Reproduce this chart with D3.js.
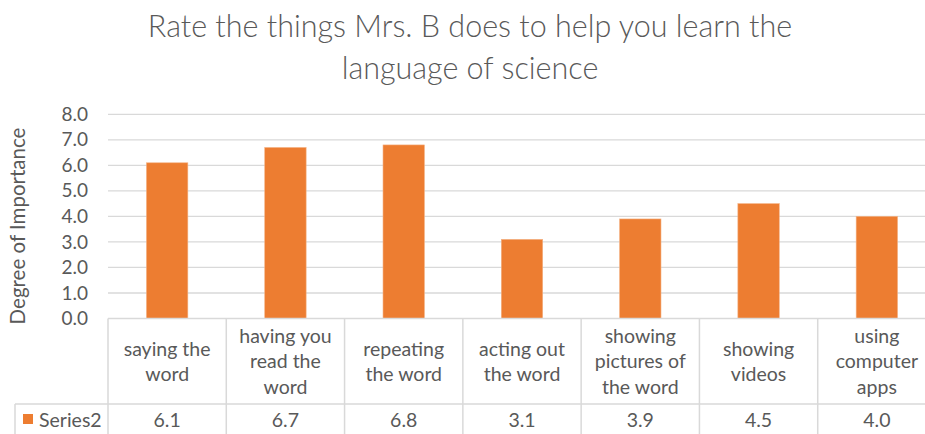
<!DOCTYPE html>
<html>
<head>
<meta charset="utf-8">
<script src="https://cdn.jsdelivr.net/npm/d3@7"></script>
<style>
  body { margin: 0; background: #fff; }
  svg text { font-family: Lato, "Open Sans", sans-serif; fill: #595959; }
</style>
</head>
<body>
<svg id="chart" width="925" height="434"></svg>
<script>
const categories = [
  "saying the word",
  "having you read the word",
  "repeating the word",
  "acting out the word",
  "showing pictures of the word",
  "showing videos",
  "using computer apps"
];
const series2 = [6.1, 6.7, 6.8, 3.1, 3.9, 4.5, 4.0];
const yTicks = [0, 1, 2, 3, 4, 5, 6, 7, 8];
const seriesName = "Series2";
const titleLines = ["Rate the things Mrs. B does to help you learn the", "language of science"];
const yTitle = "Degree of Importance";

const svg = d3.select("#chart");
const orange = "#ed7d31";
const gridColor = "#d9d9d9";

const plotLeft = 108, plotRight = 936, plotTop = 114.3, base = 318.5;
const rowSplit = 404, tableBottom = 440;

const x = d3.scaleBand().domain(categories).range([plotLeft, plotRight]).padding(0);
const y = d3.scaleLinear().domain([0, 8]).range([base, plotTop]);

// title
svg.append("g").selectAll("text")
  .data(titleLines)
  .join("text")
  .attr("x", 470)
  .attr("y", (d, i) => 37 + i * 42)
  .attr("text-anchor", "middle")
  .style("font-size", "30.5px")
  .style("font-weight", 300)
  .text(d => d);

// gridlines
svg.append("g").selectAll("line")
  .data(yTicks.slice(1))
  .join("line")
  .attr("x1", plotLeft).attr("x2", plotRight)
  .attr("y1", d => y(d)).attr("y2", d => y(d))
  .style("stroke", gridColor)
  .style("stroke-width", 1.3);

// y axis labels
const yAxis = svg.append("g")
  .attr("transform", `translate(${plotLeft},0)`)
  .call(d3.axisLeft(y).tickValues(yTicks).tickFormat(d3.format(".1f")).tickSize(0).tickPadding(20));
yAxis.select(".domain").remove();
yAxis.selectAll("text")
  .style("font-size", "19px")
  .style("font-family", "Lato, 'Open Sans', sans-serif")
  .attr("fill", "#595959");

svg.append("text")
  .attr("transform", "translate(25,226) rotate(-90)")
  .attr("text-anchor", "middle")
  .style("font-size", "20.5px")
  .text(yTitle);

// bars
const bw = x.bandwidth() * 0.35;
svg.append("g").selectAll("rect")
  .data(series2)
  .join("rect")
  .attr("x", (d, i) => x(categories[i]) + (x.bandwidth() - bw) / 2)
  .attr("width", bw)
  .attr("y", d => y(d))
  .attr("height", d => y(0) - y(d))
  .style("fill", orange)
  .style("stroke", "#f4b183")
  .style("stroke-width", 0.6);

// data table lines
const table = svg.append("g").style("stroke", gridColor).style("stroke-width", 1.5);
table.append("line").attr("x1", plotLeft).attr("x2", plotRight).attr("y1", base).attr("y2", base);
table.append("line").attr("x1", 15).attr("x2", plotRight).attr("y1", rowSplit).attr("y2", rowSplit);
table.append("line").attr("x1", 15).attr("x2", 15).attr("y1", rowSplit).attr("y2", tableBottom);
table.selectAll("line.v")
  .data(categories.concat(["end"]))
  .join("line")
  .attr("class", "v")
  .attr("x1", (d, i) => i < categories.length ? x(d) : plotRight)
  .attr("x2", (d, i) => i < categories.length ? x(d) : plotRight)
  .attr("y1", base).attr("y2", tableBottom);

// category labels, wrapped to the cell width
const catG = svg.append("g").selectAll("text")
  .data(categories)
  .join("text")
  .attr("text-anchor", "middle")
  .style("font-size", "19.5px");

catG.each(function (d) {
  const el = d3.select(this);
  const words = d.split(" ");
  const lines = [];
  let line = [];
  const probe = el.append("tspan");
  words.forEach(w => {
    const test = line.concat([w]).join(" ");
    probe.text(test);
    if (line.length && probe.node().getComputedTextLength() > 106) {
      lines.push(line.join(" "));
      line = [w];
    } else {
      line.push(w);
    }
  });
  lines.push(line.join(" "));
  probe.remove();
  const cx = x(d) + x.bandwidth() / 2;
  const lh = 25.5;
  const cy = (base + rowSplit) / 2 - (lines.length - 1) * lh / 2 + 7;
  lines.forEach((t, i) => {
    el.append("tspan").attr("x", cx).attr("y", cy + i * lh).text(t);
  });
});

// values row
svg.append("g").selectAll("text")
  .data(series2)
  .join("text")
  .attr("x", (d, i) => x(categories[i]) + x.bandwidth() / 2)
  .attr("y", 427)
  .attr("text-anchor", "middle")
  .style("font-size", "19.5px")
  .text(d => d3.format(".1f")(d));

// legend key in table
svg.append("rect")
  .attr("x", 23).attr("y", 414).attr("width", 10).attr("height", 10)
  .style("fill", orange);
svg.append("text")
  .attr("x", 39).attr("y", 427)
  .style("font-size", "19.5px")
  .text(seriesName);
</script>
</body>
</html>
